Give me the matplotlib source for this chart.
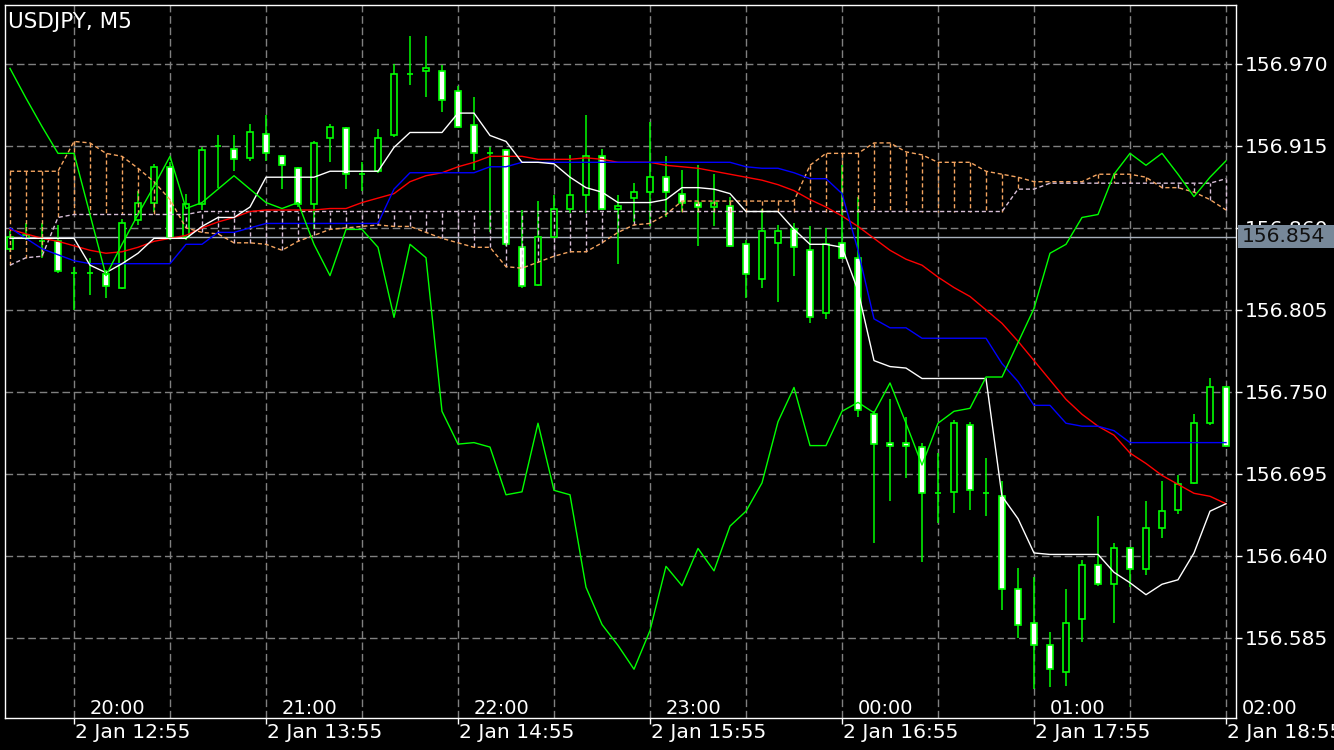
import numpy as np
import matplotlib
matplotlib.use("Agg")
import matplotlib.pyplot as plt
from matplotlib.patches import Rectangle
from matplotlib.transforms import blended_transform_factory

plt.rcParams["font.family"] = ["DejaVu Sans"]
plt.rcParams["lines.scale_dashes"] = False

chart_title = "USDJPY, M5"

# OHLC, 77 bars of 5 minutes (12:35 .. 18:55 server time)
opens = [
    156.846, 156.853, 156.851, 156.851, 156.830, 156.830, 156.829, 156.820, 156.865, 156.877,
    156.901, 156.854, 156.876, 156.915, 156.913, 156.907, 156.923, 156.908, 156.900, 156.876,
    156.920, 156.927, 156.896, 156.898, 156.922, 156.963, 156.965, 156.965, 156.952, 156.929,
    156.910, 156.912, 156.847, 156.822, 156.854, 156.873, 156.882, 156.908, 156.873, 156.880,
    156.884, 156.894, 156.883, 156.877, 156.874, 156.875, 156.849, 156.826, 156.850, 156.859,
    156.845, 156.803, 156.850, 156.840, 156.735, 156.716, 156.716, 156.713, 156.682, 156.683,
    156.728, 156.682, 156.680, 156.618, 156.595, 156.580, 156.562, 156.598, 156.634, 156.621,
    156.645, 156.631, 156.659, 156.671, 156.689, 156.729, 156.753]
highs = [
    156.858, 156.863, 156.863, 156.862, 156.834, 156.840, 156.832, 156.866, 156.885, 156.903,
    156.904, 156.883, 156.914, 156.922, 156.922, 156.930, 156.936, 156.909, 156.901, 156.918,
    156.930, 156.928, 156.904, 156.926, 156.970, 156.989, 156.989, 156.969, 156.955, 156.948,
    156.914, 156.913, 156.872, 156.878, 156.882, 156.909, 156.936, 156.913, 156.882, 156.890,
    156.931, 156.908, 156.899, 156.902, 156.896, 156.881, 156.852, 156.873, 156.862, 156.863,
    156.861, 156.860, 156.902, 156.881, 156.737, 156.745, 156.733, 156.716, 156.709, 156.731,
    156.730, 156.706, 156.690, 156.632, 156.626, 156.589, 156.618, 156.637, 156.667, 156.649,
    156.646, 156.677, 156.690, 156.694, 156.735, 156.759, 156.754]
lows = [
    156.844, 156.852, 156.840, 156.830, 156.805, 156.815, 156.813, 156.819, 156.862, 156.871,
    156.852, 156.852, 156.872, 156.887, 156.898, 156.905, 156.905, 156.886, 156.874, 156.859,
    156.904, 156.886, 156.885, 156.897, 156.921, 156.956, 156.948, 156.938, 156.927, 156.899,
    156.857, 156.848, 156.820, 156.821, 156.853, 156.870, 156.870, 156.872, 156.836, 156.864,
    156.861, 156.867, 156.871, 156.848, 156.861, 156.847, 156.813, 156.820, 156.810, 156.828,
    156.796, 156.799, 156.839, 156.733, 156.649, 156.677, 156.692, 156.636, 156.662, 156.669,
    156.671, 156.667, 156.604, 156.585, 156.551, 156.552, 156.553, 156.582, 156.620, 156.595,
    156.619, 156.627, 156.652, 156.668, 156.688, 156.728, 156.713]
closes = [
    156.854, 156.855, 156.851, 156.831, 156.830, 156.830, 156.821, 156.863, 156.877, 156.901,
    156.853, 156.876, 156.912, 156.915, 156.906, 156.924, 156.910, 156.902, 156.876, 156.917,
    156.928, 156.896, 156.896, 156.920, 156.963, 156.963, 156.967, 156.946, 156.928, 156.910,
    156.910, 156.849, 156.821, 156.854, 156.873, 156.882, 156.908, 156.873, 156.875, 156.884,
    156.894, 156.884, 156.877, 156.874, 156.877, 156.848, 156.829, 156.858, 156.858, 156.847,
    156.800, 156.849, 156.840, 156.738, 156.715, 156.714, 156.714, 156.682, 156.682, 156.729,
    156.684, 156.682, 156.618, 156.594, 156.580, 156.564, 156.595, 156.634, 156.621, 156.645,
    156.631, 156.659, 156.670, 156.688, 156.729, 156.753, 156.714]

# indicator lines
tenkan = [
    156.853, 156.853, 156.853, 156.853, 156.853, 156.835, 156.830, 156.836, 156.843, 156.853,
    156.853, 156.853, 156.861, 156.867, 156.867, 156.874, 156.894, 156.894, 156.894, 156.894,
    156.898, 156.898, 156.898, 156.898, 156.914, 156.924, 156.924, 156.924, 156.937, 156.937,
    156.922, 156.918, 156.904, 156.904, 156.903, 156.894, 156.887, 156.884, 156.877, 156.877,
    156.877, 156.879, 156.887, 156.887, 156.886, 156.883, 156.871, 156.871, 156.871, 156.859,
    156.849, 156.849, 156.847, 156.818, 156.771, 156.767, 156.766, 156.759, 156.759, 156.759,
    156.759, 156.759, 156.680, 156.665, 156.642, 156.641, 156.641, 156.641, 156.641, 156.629,
    156.622, 156.614, 156.621, 156.624, 156.642, 156.670, 156.675]
kijun = [
    156.860, 156.853, 156.846, 156.842, 156.838, 156.836, 156.836, 156.836, 156.836, 156.836,
    156.836, 156.849, 156.849, 156.857, 156.857, 156.860, 156.863, 156.863, 156.863, 156.863,
    156.863, 156.863, 156.863, 156.863, 156.886, 156.897, 156.897, 156.897, 156.897, 156.897,
    156.901, 156.901, 156.904, 156.904, 156.904, 156.904, 156.904, 156.904, 156.904, 156.904,
    156.904, 156.904, 156.904, 156.904, 156.904, 156.904, 156.901, 156.900, 156.900, 156.897,
    156.893, 156.893, 156.883, 156.845, 156.799, 156.793, 156.793, 156.786, 156.786, 156.786,
    156.786, 156.786, 156.769, 156.757, 156.741, 156.741, 156.729, 156.727, 156.727, 156.724,
    156.716, 156.716, 156.716, 156.716, 156.716, 156.716, 156.716]
moving_avg = [
    156.859, 156.856, 156.853, 156.851, 156.848, 156.845, 156.843, 156.844, 156.847, 156.851,
    156.853, 156.855, 156.860, 156.864, 156.867, 156.871, 156.872, 156.872, 156.872, 156.872,
    156.873, 156.873, 156.877, 156.880, 156.883, 156.891, 156.895, 156.897, 156.901, 156.904,
    156.908, 156.908, 156.908, 156.906, 156.906, 156.906, 156.907, 156.906, 156.904, 156.904,
    156.904, 156.902, 156.901, 156.900, 156.898, 156.896, 156.894, 156.892, 156.889, 156.885,
    156.879, 156.874, 156.868, 156.861, 156.853, 156.845, 156.839, 156.835, 156.827, 156.820,
    156.814, 156.805, 156.796, 156.784, 156.771, 156.758, 156.745, 156.735, 156.727, 156.721,
    156.709, 156.702, 156.694, 156.688, 156.682, 156.680, 156.675]
chikou = [
    156.967, 156.947, 156.928, 156.910, 156.910, 156.869, 156.828, 156.849, 156.869, 156.888,
    156.908, 156.873, 156.877, 156.886, 156.895, 156.886, 156.877, 156.873, 156.877, 156.849,
    156.828, 156.859, 156.859, 156.847, 156.800, 156.849, 156.840, 156.737, 156.715, 156.716,
    156.713, 156.681, 156.683, 156.729, 156.684, 156.681, 156.619, 156.594, 156.580, 156.564,
    156.590, 156.633, 156.620, 156.645, 156.630, 156.660, 156.670, 156.689, 156.730, 156.753,
    156.714, 156.714, 156.737, 156.743, 156.736, 156.756, 156.729, 156.701, 156.729, 156.737,
    156.739, 156.760, 156.760, 156.783, 156.806, 156.843, 156.849, 156.867, 156.869, 156.896,
    156.910, 156.902, 156.910, 156.896, 156.881, 156.894, 156.905]
span_a = [
    156.898, 156.898, 156.898, 156.898, 156.918, 156.917, 156.910, 156.908, 156.900, 156.891,
    156.879, 156.860, 156.857, 156.856, 156.850, 156.850, 156.849, 156.845, 156.851, 156.855,
    156.859, 156.860, 156.861, 156.862, 156.861, 156.861, 156.857, 156.853, 156.850, 156.847,
    156.847, 156.834, 156.833, 156.837, 156.841, 156.844, 156.844, 156.850, 156.857, 156.862,
    156.863, 156.869, 156.878, 156.878, 156.878, 156.878, 156.878, 156.878, 156.878, 156.878,
    156.902, 156.910, 156.910, 156.910, 156.917, 156.917, 156.911, 156.909, 156.904, 156.904,
    156.904, 156.898, 156.896, 156.894, 156.891, 156.891, 156.891, 156.891, 156.896, 156.896,
    156.896, 156.894, 156.887, 156.887, 156.884, 156.879, 156.872]
span_b = [
    156.835, 156.840, 156.841, 156.867, 156.869, 156.869, 156.869, 156.869, 156.869, 156.869,
    156.869, 156.869, 156.871, 156.871, 156.871, 156.871, 156.871, 156.871, 156.871, 156.871,
    156.871, 156.871, 156.871, 156.871, 156.871, 156.871, 156.871, 156.871, 156.871, 156.871,
    156.871, 156.871, 156.871, 156.871, 156.871, 156.871, 156.871, 156.871, 156.871, 156.871,
    156.871, 156.871, 156.871, 156.871, 156.871, 156.871, 156.871, 156.871, 156.871, 156.871,
    156.871, 156.871, 156.871, 156.871, 156.871, 156.871, 156.871, 156.871, 156.871, 156.871,
    156.871, 156.871, 156.871, 156.886, 156.886, 156.890, 156.890, 156.890, 156.890, 156.890,
    156.890, 156.890, 156.890, 156.890, 156.890, 156.890, 156.893]

price_levels = [156.970, 156.915, 156.860, 156.805, 156.750, 156.695, 156.640, 156.585]
bid_price = 156.854

date_labels = ["2 Jan 12:55", "2 Jan 13:55", "2 Jan 14:55", "2 Jan 15:55",
               "2 Jan 16:55", "2 Jan 17:55", "2 Jan 18:55"]
date_label_bars = [4, 16, 28, 40, 52, 64, 76]
local_labels = ["20:00", "21:00", "22:00", "23:00", "00:00", "01:00", "02:00"]
local_label_bars = [5, 17, 29, 41, 53, 65, 77]

W, H = 1334, 750
fig = plt.figure(figsize=(W / 100, H / 100), dpi=100, facecolor="black")
ax = fig.add_axes([5 / W, 1 - 718 / H, 1231 / W, 713 / H])
ax.set_facecolor("black")

n = len(opens)
xs = np.arange(n)
o = np.array(opens)
c = np.array(closes)

ax.set_xlim(-0.3125, 76.625)
ax.set_ylim(156.5313, 157.0095)

# grid
grid_style = dict(color="#808080", lw=1, ls=(0, (5.5, 2.7)), zorder=0.5)
for p in price_levels:
    ax.axhline(p, **grid_style)
for b in range(4, n, 6):
    ax.axvline(b, **grid_style)

ax.axhline(bid_price, color="#a8b0bc", lw=1, zorder=1)

# candles
ax.vlines(xs, lows, highs, color="#00ff00", lw=1.1, zorder=2)
body_colors = ["black" if cl > op else "white" for op, cl in zip(o, c)]
ax.bar(xs, c - o, bottom=o, width=0.42, color=body_colors,
       edgecolor="#00ff00", linewidth=1.2, zorder=3)

# cloud
sandy, thistle = "#f4a460", "#d8bfd8"
hatch_colors = [sandy if a >= b else thistle for a, b in zip(span_a, span_b)]
ax.vlines(xs, span_a, span_b, colors=hatch_colors, linestyles=[(0, (3, 2))], lw=1, zorder=4)
ax.plot(xs, span_a, color=sandy, lw=1, ls=(0, (3, 2)), zorder=4)
ax.plot(xs, span_b, color=thistle, lw=1, ls=(0, (3, 2)), zorder=4)

# lines
ax.plot(xs, moving_avg, color="#ff0000", lw=1, zorder=5)
ax.plot(xs, kijun, color="#0000ff", lw=1, zorder=5)
ax.plot(xs, tenkan, color="white", lw=1, zorder=5)
ax.plot(xs, chikou, color="#00ff00", lw=1, zorder=6)

# axes styling
for s in ax.spines.values():
    s.set_color("white")
    s.set_linewidth(1)
ax.yaxis.tick_right()
ax.set_yticks(price_levels)
ax.set_yticklabels([f"{p:.3f}" for p in price_levels])
ax.tick_params(axis="y", colors="white", length=4, width=1, labelsize=14.6, pad=2)
ax.set_xticks(date_label_bars)
ax.set_xticklabels([])
ax.tick_params(axis="x", colors="white", length=4, width=1)

trans = blended_transform_factory(ax.transData, ax.transAxes)
for b, lab in zip(date_label_bars, date_labels):
    ax.text(b + 0.05, -0.021, lab, transform=trans, ha="left", va="center",
            color="white", fontsize=14.6, clip_on=False)
for b, lab in zip(local_label_bars, local_labels):
    ax.text(b, 0.0135, lab, transform=trans, ha="left", va="center", color="white",
            fontsize=14, clip_on=False)

fig.text(8 / W, 1 - 22 / H, chart_title, color="white", fontsize=15.5, ha="left", va="center")

# bid label box
fig.add_artist(Rectangle((1238 / W, 1 - 248 / H), 96 / W, 23 / H, transform=fig.transFigure,
                         facecolor="#778899", edgecolor="none", zorder=5))
fig.text(1242 / W, 1 - 236.5 / H, f"{bid_price:.3f}", color="#111111", fontsize=14.6,
         ha="left", va="center", zorder=6)

fig.savefig("out.png", dpi=100, facecolor="black")
